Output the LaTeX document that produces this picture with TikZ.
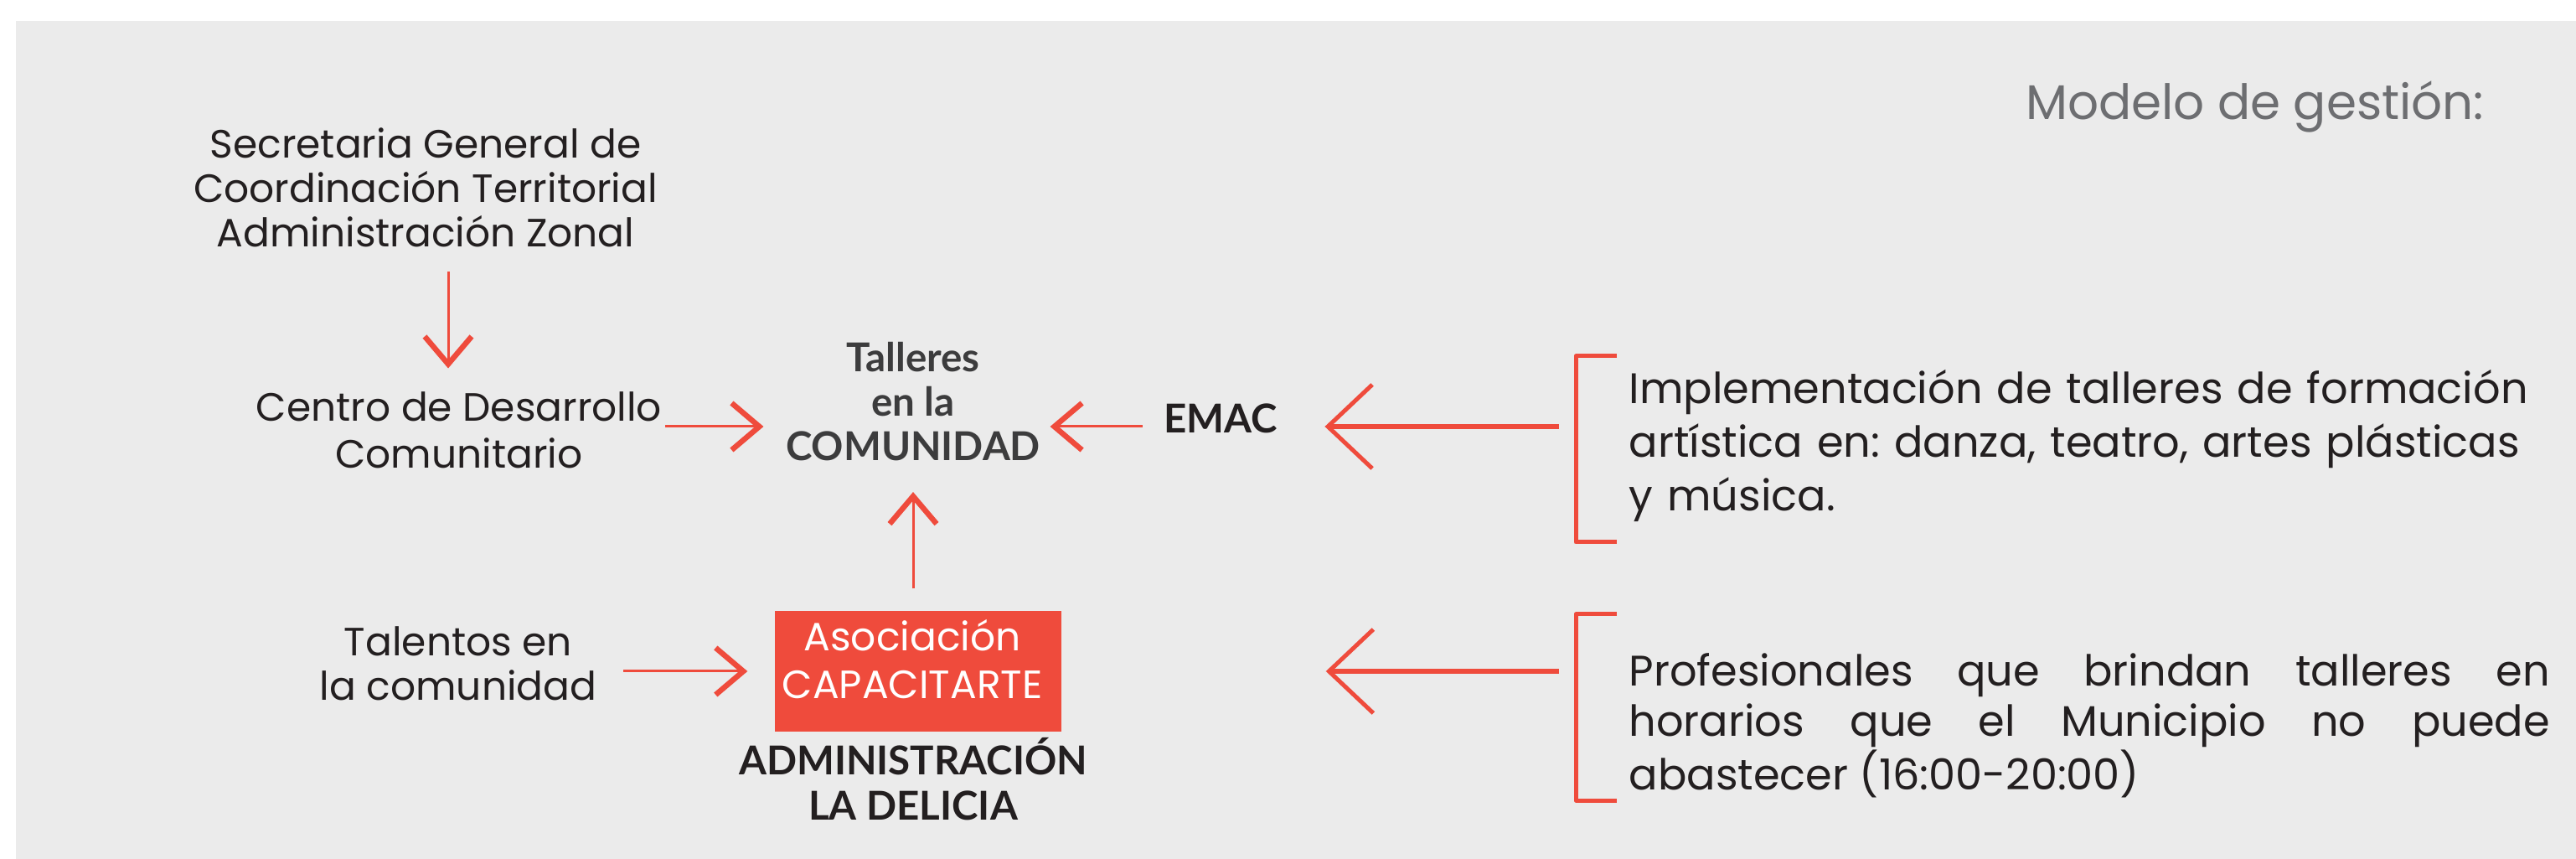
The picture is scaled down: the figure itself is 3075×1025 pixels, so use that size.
\documentclass[tikz,border=0pt]{standalone}
\usepackage{fontspec}
\setmainfont{Poppins}
\newfontfamily\negrita{Lato}
\usetikzlibrary{arrows.meta}
\definecolor{rojo}{HTML}{EF4B3C}
\definecolor{fondo}{HTML}{EBEBEB}
\definecolor{tinta}{HTML}{231F20}
\definecolor{oscuro}{HTML}{3C3C3D}
\definecolor{gris}{HTML}{6D6E71}
\hyphenpenalty=10000
\exhyphenpenalty=10000
\frenchspacing

\begin{document}
\begin{tikzpicture}[x=0.1mm, y=-0.1mm, line join=round,
	every node/.style={inner sep=0pt, text=tinta, align=center},
	txt/.style={font=\fontsize{13.4}{#1}\selectfont},
	txt/.default=15.2,
	neg/.style={font=\negrita\bfseries\fontsize{13.5}{15.2}\selectfont},
	flecha/.style={draw=rojo, line width=0.3mm, -{Straight Barb[length=3.3mm, width=5.6mm, line width=0.65mm]}},
	flechota/.style={draw=rojo, line width=0.55mm, -{Straight Barb[length=5.3mm, width=10mm, line width=0.5mm]}},
	corchete/.style={draw=rojo, line width=0.5mm}]
	
	\fill[fondo] (19,25) rectangle (3075,1025);
	\useasboundingbox (0,0) rectangle (3075,1025);
	
	\node[anchor=base east, font=\fontsize{16.5}{20}\selectfont, text=gris] (titulo) at (2966,143) {Modelo de gestión:};
	
	\node[txt, anchor=base] (sec) at (508,295) {Secretaria General de\\Coordinación Territorial\\Administración Zonal};
	\node[txt=16.2, anchor=base] (cdc) at (548,559) {Centro de Desarrollo\\Comunitario};
	\node[txt=15.1, anchor=base] (tlt) at (547,836) {Talentos en\\la comunidad};
	
	\node[neg, anchor=base, text=oscuro] (tal) at (1090,550) {Talleres\\en la\\COMUNIDAD};
	\node[neg, anchor=base] (emac) at (1457,517) {EMAC};
	
	\node[fill=rojo, minimum width=34.2mm, minimum height=14.4mm] (asoc) at (1096,801) {};
	\node[txt=16.2, anchor=base, text=white] (asoclbl) at (1089,833) {Asociación\\CAPACITARTE};
	\node[neg, anchor=base] (adm) at (1090,978) {ADMINISTRACIÓN\\LA DELICIA};
	
	\node[anchor=base west, text width=112mm, align=left, font=\fontsize{14.5}{18.2}\selectfont] (impl) at (1944,482) {Implementación de talleres de formación\\artística en: danza, teatro, artes plásticas\\y música.};
	\node[anchor=base west, text width=109.9mm, align=justify, font=\fontsize{14.5}{17.1}\selectfont] (prof) at (1944,818) {Profesionales que brindan talleres en\linebreak horarios que el Municipio no puede\linebreak abastecer (16:00-20:00)};
	
	% corchetes
	\draw[corchete] (1930,425) -- (1881,425) -- (1881,647) -- (1930,647);
	\draw[corchete] (1930,733) -- (1881,733) -- (1881,955) -- (1930,955);
	\coordinate (br1) at (1861,509);
	\coordinate (br2) at (1861,801);
	
	\coordinate (ejea) at (535,0);
	\coordinate (ejeb) at (0,509);
	
	\draw[flecha, shorten <=2.8mm, shorten >=2.7mm] (sec.south -| ejea) -- (cdc.north -| ejea);
	\draw[flecha, shorten <=0.3mm, shorten >=2.6mm] (cdc.east |- ejeb) -- (tal.west |- ejeb);
	\draw[flecha, shorten <=2.5mm, shorten >=1.1mm] (emac.west |- ejeb) -- (tal.east |- ejeb);
	\draw[flecha, shorten <=2.6mm, shorten >=3.6mm] (asoc.north -| tal) -- (tal.south);
	\draw[flecha, shorten <=3.1mm, shorten >=3.2mm] (tlt.east |- asoc) -- (asoc.west);
	
	\draw[flechota, shorten >=5.6mm] (br1) -- (emac.east |- br1);
	\draw[flechota, shorten >=31.5mm] (br2) -- (asoc.east);
	
\end{tikzpicture}
\end{document}
